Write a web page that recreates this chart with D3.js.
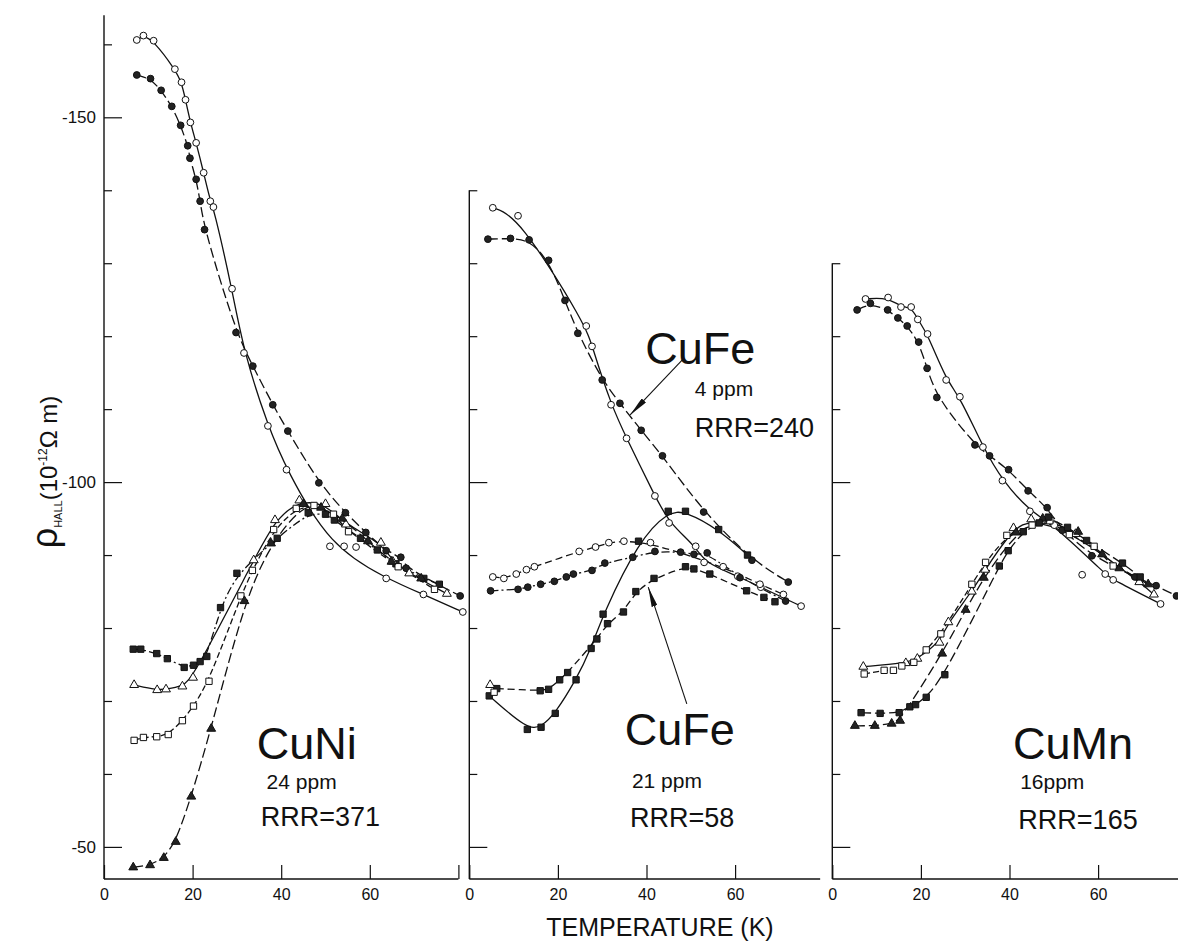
<!DOCTYPE html>
<html>
<head>
<meta charset="utf-8">
<script src="https://cdn.jsdelivr.net/npm/d3@7"></script>
<style>
  body { margin: 0; background: #fff; }
  svg { display: block; font-family: "Liberation Sans", Arial, sans-serif; }
</style>
</head>
<body>
<svg id="chart" width="1178" height="941"></svg>
<script>
// values: [temperature (K), rho_Hall (1e-12 ohm m)]

// --- CuNi 24 ppm
var niOpenCircle = [[7.4,-160.6],[8.9,-161.2],[11.2,-160.5],[16.0,-156.6],[17.5,-154.8],[18.4,-152.4],[19.5,-149.3],[20.8,-146.5],[22.5,-142.4],[24.0,-138.5],[24.7,-137.7],[28.9,-126.5],[31.6,-117.7],[37.0,-107.7],[41.2,-101.7],[51.0,-91.2],[63.7,-86.8],[72.1,-84.6],[81.0,-82.2]];
var niStrayCircle = [[54.2,-91.2],[56.9,-91.1]];
var niFilledCircle = [[7.4,-155.8],[10.5,-155.3],[12.9,-153.7],[15.3,-151.5],[17.3,-148.9],[18.9,-146.1],[19.4,-144.4],[20.8,-141.5],[21.7,-138.5],[22.7,-134.6],[29.8,-120.5],[33.6,-115.9],[38.1,-110.6],[41.5,-107.0],[48.5,-99.9],[54.5,-95.8],[59.1,-93.1],[63.7,-90.6],[67.0,-89.7],[68.2,-88.2],[80.4,-84.4]];
var niFilledSquare = [[6.6,-77.1],[8.3,-77.1],[11.9,-76.5],[14.3,-75.8],[18.1,-74.6],[20.2,-74.9],[21.7,-75.4],[23.2,-76.1],[26.3,-82.8],[30.0,-87.5],[39.1,-92.3],[46.1,-95.8],[50.0,-95.6],[52.0,-94.8],[57.9,-92.3],[61.7,-90.7],[65.9,-88.8],[72.2,-86.8],[75.7,-86.0]];
var niOpenTriangle = [[6.8,-72.2],[12.0,-71.5],[14.0,-71.6],[17.7,-72.0],[20.1,-73.2],[33.8,-89.3],[38.6,-94.8],[44.1,-97.5],[50.0,-97.0],[54.6,-94.2],[62.5,-91.7],[65.2,-89.1],[68.9,-87.5],[77.4,-84.7]];
var niOpenSquare = [[6.8,-64.6],[8.9,-65.0],[11.9,-65.1],[14.5,-65.4],[17.7,-67.3],[20.2,-69.3],[23.7,-72.7],[30.9,-84.4],[33.5,-87.9],[38.3,-93.5],[43.4,-96.4],[47.4,-96.8],[51.8,-95.6],[55.2,-93.2],[66.4,-88.4],[74.6,-85.3]];
var niFilledTriangle = [[6.6,-47.2],[10.4,-47.5],[13.5,-48.5],[16.2,-50.7],[19.7,-56.9],[24.2,-66.2],[31.7,-83.7],[37.7,-91.6],[45.0,-97.0],[49.0,-96.5],[53.8,-95.0],[59.6,-91.9],[64.9,-89.1],[71.6,-86.8]];

// --- CuFe 4 ppm and 21 ppm
var feOpenCircle = [[5.3,-137.6],[11.0,-136.5],[26.4,-121.4],[27.7,-118.6],[32.0,-110.6],[35.5,-106.0],[41.9,-98.1],[45.1,-94.4],[51.1,-91.2],[53.0,-89.0],[60.6,-87.1],[65.8,-85.6],[74.9,-83.0]];
var feFilledCircle = [[4.2,-133.3],[9.3,-133.4],[13.5,-133.2],[17.9,-130.4],[21.6,-124.9],[24.5,-120.4],[30.0,-114.0],[34.0,-110.8],[38.8,-107.1],[43.6,-103.6],[52.9,-95.9],[63.8,-89.3],[72.0,-86.3]];
var feOpenCircle2 = [[5.3,-87.0],[7.8,-86.8],[10.6,-87.4],[12.9,-88.0],[14.7,-88.4],[24.8,-90.5],[28.5,-91.1],[31.5,-91.7],[34.9,-91.9],[40.9,-91.7],[57.3,-88.4],[65.6,-86.0],[70.9,-84.6]];
var feFilledCircle2 = [[4.8,-85.1],[11.0,-85.3],[13.2,-85.6],[16.1,-86.0],[19.2,-86.4],[21.9,-87.0],[23.5,-87.4],[27.7,-87.9],[30.6,-88.9],[36.9,-89.7],[41.9,-90.5],[47.7,-90.4],[50.7,-90.1],[53.7,-90.3],[61.1,-86.9],[71.4,-83.7]];
var feFilledSquare = [[4.5,-70.7],[13.1,-66.1],[16.2,-66.4],[19.4,-68.3],[24.1,-72.9],[27.5,-77.2],[30.2,-81.9],[38.2,-91.9],[44.9,-96.0],[48.8,-96.0],[56.3,-93.5],[62.8,-90.0]];
var feFilledSquare2 = [[6.2,-71.7],[16.0,-71.4],[17.9,-71.6],[20.4,-72.9],[22.2,-73.9],[28.8,-78.5],[31.2,-80.6],[34.8,-82.2],[37.6,-85.0],[41.7,-86.8],[48.8,-88.4],[50.7,-88.1],[54.3,-87.4],[62.6,-85.1],[66.5,-84.2],[69.0,-83.6]];
var feOpenTriangle = [[4.7,-72.2]];
var feOpenSquare = [[5.6,-71.2]];

// --- CuMn 16 ppm
var mnOpenCircle = [[7.5,-125.1],[12.6,-125.3],[15.5,-124.0],[17.8,-124.0],[19.3,-122.3],[21.5,-120.3],[25.7,-114.0],[28.8,-111.7],[34.0,-104.8],[38.4,-100.2],[44.6,-96.0],[50.1,-94.1],[61.6,-87.4],[63.4,-86.6],[74.1,-83.3]];
var mnStrayCircle = [[56.4,-87.3]];
var mnFilledCircle = [[5.6,-123.6],[8.6,-124.5],[12.5,-123.6],[14.8,-122.5],[16.9,-121.4],[19.5,-119.2],[21.4,-115.6],[23.6,-111.6],[32.2,-105.1],[35.5,-103.6],[39.8,-101.7],[44.2,-98.8],[48.5,-96.5],[51.9,-93.4],[58.6,-89.9],[68.3,-87.0],[73.1,-85.8],[77.7,-84.4]];
var mnOpenTriangle = [[7.0,-74.7],[16.6,-75.2],[19.2,-75.8],[24.2,-78.0],[26.2,-80.8],[31.5,-85.0],[34.5,-88.0],[40.9,-93.7],[44.9,-94.9],[54.9,-92.9],[69.3,-86.3],[72.6,-84.6]];
var mnOpenSquare = [[7.2,-73.7],[11.7,-74.2],[13.8,-74.2],[15.7,-74.8],[18.4,-75.3],[21.2,-77.0],[24.5,-79.2],[31.5,-86.0],[34.6,-89.0],[39.4,-92.7],[45.1,-94.1],[49.1,-94.7],[53.5,-92.8],[59.1,-91.2],[63.4,-88.5]];
var mnFilledTriangle = [[5.1,-66.6],[9.6,-66.6],[13.4,-66.9],[15.3,-67.3],[24.8,-76.5],[30.1,-82.5],[34.2,-86.9],[41.5,-93.1],[47.5,-95.0],[55.5,-93.2],[60.9,-90.1],[64.8,-88.2],[71.3,-86.0]];
var mnFilledSquare = [[6.5,-68.4],[10.8,-68.3],[15.1,-68.4],[17.5,-69.2],[18.8,-69.5],[21.2,-70.5],[25.4,-73.6],[37.7,-88.5],[39.7,-90.6],[43.1,-93.2],[46.7,-94.4],[48.8,-95.2],[53.1,-93.8],[57.4,-92.0],[65.5,-88.9],[69.5,-87.0]];

// ticks
var tempTicks = [0, 20, 40, 60];
var rhoMajor = [-150, -100, -50];
var rhoMinor = [-160, -140, -130, -120, -110, -90, -80, -70, -60];

// text in each panel: [text, T, rho, kind]
var niLabels = [["CuNi", 34.5, -62.1, "big"], ["24 ppm", 36.7, -58.0, "ppm"], ["RRR=371", 35.4, -52.8, "rrr"]];
var feLabels = [["CuFe", 39.7, -116.2, "big"], ["4 ppm", 50.9, -111.8, "ppm"], ["RRR=240", 50.9, -106.2, "rrr"],
                ["CuFe", 35.1, -63.9, "big"], ["21 ppm", 36.7, -58.1, "ppm"], ["RRR=58", 36.3, -52.7, "rrr"]];
var mnLabels = [["CuMn", 40.8, -62.1, "big"], ["16ppm", 42.4, -58.0, "ppm"], ["RRR=165", 42.0, -52.5, "rrr"]];
// arrows [from, to]
var feArrows = [[[48.3, -116.9], [36.3, -109.2]], [[49.1, -69.6], [40.4, -85.6]]];

var panels = [
  {x0: 104, top: -164, xEnd: 80, endTick: true, rhoText: true, labels: niLabels, arrows: [],
   series: [
     {data: niOpenCircle, shape: "circle", filled: false, dash: null},
     {data: niStrayCircle, shape: "circle", filled: false, noLine: true},
     {data: niFilledCircle, shape: "circle", filled: true, dash: "10,4"},
     {data: niFilledSquare, shape: "square", filled: true, dash: "8,3,2,3"},
     {data: niOpenTriangle, shape: "triangle", filled: false, dash: null},
     {data: niOpenSquare, shape: "square", filled: false, dash: "6,3"},
     {data: niFilledTriangle, shape: "triangle", filled: true, dash: "10,4"}
   ]},
  {x0: 469.3, top: -140, xEnd: 79.2, endTick: false, rhoText: false, labels: feLabels, arrows: feArrows,
   series: [
     {data: feOpenCircle, shape: "circle", filled: false, dash: null},
     {data: feFilledCircle, shape: "circle", filled: true, dash: "10,4"},
     {data: feOpenCircle2, shape: "circle", filled: false, dash: "7,4"},
     {data: feFilledCircle2, shape: "circle", filled: true, dash: "8,3,2,3"},
     {data: feFilledSquare, shape: "square", filled: true, dash: null},
     {data: feFilledSquare2, shape: "square", filled: true, dash: "7,4"},
     {data: feOpenTriangle, shape: "triangle", filled: false, noLine: true},
     {data: feOpenSquare, shape: "square", filled: false, noLine: true}
   ]},
  {x0: 832.3, top: -130, xEnd: 80, endTick: false, rhoText: false, labels: mnLabels, arrows: [],
   series: [
     {data: mnOpenCircle, shape: "circle", filled: false, dash: null},
     {data: mnStrayCircle, shape: "circle", filled: false, noLine: true},
     {data: mnFilledCircle, shape: "circle", filled: true, dash: "10,4"},
     {data: mnOpenTriangle, shape: "triangle", filled: false, dash: null},
     {data: mnOpenSquare, shape: "square", filled: false, dash: "6,3"},
     {data: mnFilledTriangle, shape: "triangle", filled: true, dash: "10,4"},
     {data: mnFilledSquare, shape: "square", filled: true, dash: "10,4"}
   ]}
];

var ink = "#111";
var svg = d3.select("#chart");
var y = d3.scaleLinear().domain([-150, -50]).range([117.3, 846.9]);
var yBottom = -45.6;

var symbolType = {circle: d3.symbolCircle, square: d3.symbolSquare, triangle: d3.symbolTriangle};
var symbolSize = {circle: 36, square: 40, triangle: 34};
var fontSize = {big: 45, ppm: 21, rrr: 27};

svg.append("defs").append("marker")
    .attr("id", "head")
    .attr("viewBox", "0 0 20 6")
    .attr("refX", 20).attr("refY", 3)
    .attr("markerWidth", 20).attr("markerHeight", 6)
    .attr("markerUnits", "userSpaceOnUse")
    .attr("orient", "auto")
  .append("path")
    .attr("d", "M0,0L20,3L0,6Z")
    .attr("fill", ink);

panels.forEach(function(p) {
  var x = d3.scaleLinear().domain([0, 80]).range([p.x0, p.x0 + 80 * 4.43]);
  var g = svg.append("g");

  // frame
  g.append("line")
      .attr("x1", x(0)).attr("x2", x(0))
      .attr("y1", y(p.top)).attr("y2", y(yBottom))
      .attr("stroke", ink).attr("stroke-width", 1.4);
  g.append("line")
      .attr("x1", x(0)).attr("x2", x(p.xEnd))
      .attr("y1", y(yBottom)).attr("y2", y(yBottom))
      .attr("stroke", ink).attr("stroke-width", 1.4);

  // y ticks, pointing inward
  var inPanel = function(v) { return v >= p.top; };
  g.append("g")
      .attr("transform", "translate(" + x(0) + ",0)")
      .call(d3.axisLeft(y).tickValues(rhoMinor.filter(inPanel)).tickSize(-8).tickFormat(""))
      .call(function(a) { a.select(".domain").remove(); });
  g.append("g")
      .attr("transform", "translate(" + x(0) + ",0)")
      .attr("font-family", null)
      .call(d3.axisLeft(y).tickValues(rhoMajor.filter(inPanel)).tickSize(-18).tickPadding(8)
            .tickFormat(function(d) { return p.rhoText ? d : ""; }))
      .attr("font-size", 17)
      .call(function(a) { a.select(".domain").remove(); });

  // x ticks, pointing up
  var xt = p.endTick ? tempTicks.concat([80]) : tempTicks;
  g.append("g")
      .attr("transform", "translate(0," + y(yBottom) + ")")
      .attr("font-family", null)
      .call(d3.axisBottom(x).tickValues(xt).tickSize(-14).tickPadding(10)
            .tickFormat(function(d) { return d === 80 ? "" : d; }))
      .attr("font-size", 16)
      .call(function(a) { a.select(".domain").remove(); });

  g.selectAll(".tick line").attr("stroke", ink).attr("stroke-width", 1.2);
  g.selectAll(".tick text").attr("fill", ink);

  // curves
  var line = d3.line()
      .x(function(d) { return x(d[0]); })
      .y(function(d) { return y(d[1]); })
      .curve(d3.curveBasis);

  p.series.filter(function(s) { return !s.noLine; }).forEach(function(s) {
    g.append("path")
        .attr("d", line(s.data))
        .attr("fill", "none")
        .attr("stroke", ink)
        .attr("stroke-width", 1.3)
        .attr("stroke-dasharray", s.dash);
  });

  // markers
  p.series.forEach(function(s) {
    var sym = d3.symbol().type(symbolType[s.shape]).size(symbolSize[s.shape]);
    g.selectAll(null)
      .data(s.data)
      .enter().append("path")
        .attr("transform", function(d) { return "translate(" + x(d[0]) + "," + y(d[1]) + ")"; })
        .attr("d", sym)
        .attr("fill", s.filled ? "#222" : "#fff")
        .attr("stroke", ink)
        .attr("stroke-width", 1);
  });

  // annotations
  p.arrows.forEach(function(a) {
    g.append("line")
        .attr("x1", x(a[0][0])).attr("y1", y(a[0][1]))
        .attr("x2", x(a[1][0])).attr("y2", y(a[1][1]))
        .attr("stroke", ink).attr("stroke-width", 1.1)
        .attr("marker-end", "url(#head)");
  });

  g.selectAll(null)
    .data(p.labels)
    .enter().append("text")
      .attr("x", function(d) { return x(d[1]); })
      .attr("y", function(d) { return y(d[2]); })
      .attr("font-size", function(d) { return fontSize[d[3]]; })
      .attr("fill", ink)
      .text(function(d) { return d[0]; });
});

// axis titles
svg.append("text")
    .attr("x", 660).attr("y", 936)
    .attr("text-anchor", "middle")
    .attr("font-size", 25)
    .attr("fill", ink)
    .text("TEMPERATURE (K)");

var yt = svg.append("text")
    .attr("transform", "translate(57,472) rotate(-90)")
    .attr("text-anchor", "middle")
    .attr("font-size", 24)
    .attr("fill", ink);
yt.append("tspan").attr("font-size", 36).text("ρ");
yt.append("tspan").attr("font-size", 11).attr("dy", 5).text("HALL");
yt.append("tspan").attr("dy", -5).text("(10");
yt.append("tspan").attr("font-size", 12).attr("dy", -10).text("-12");
yt.append("tspan").attr("dy", 10).text("Ω m)");
</script>
</body>
</html>
